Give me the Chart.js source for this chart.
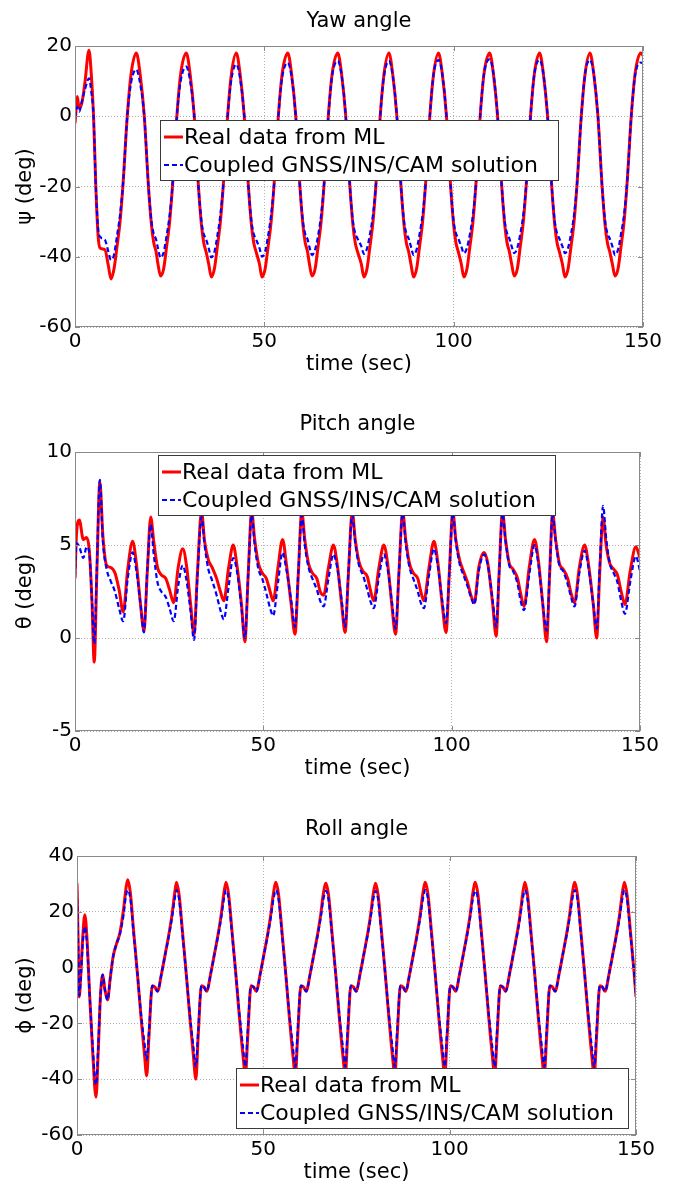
<!DOCTYPE html>
<html>
<head>
<meta charset="utf-8">
<script src="https://cdn.jsdelivr.net/npm/chart.js@4.4.1/dist/chart.umd.min.js"></script>
<style>
  html, body { margin: 0; padding: 0; background: #fff; overflow: hidden; }
  canvas { position: absolute; left: 0; }
</style>
</head>
<body>
<canvas id="yawChart" width="678" height="380" style="top:0px"></canvas>
<canvas id="pitchChart" width="678" height="394" style="top:390px"></canvas>
<canvas id="rollChart" width="678" height="398" style="top:790px"></canvas>
<script>
// values, time in sec, angles in deg
const yawTime = [
  0, 0.3, 0.6, 1.1, 1.8, 2.6, 3.7, 4.3, 4.9, 5.5, 6.1, 6.6, 7.9, 8.8, 9.5,
  10.3, 11.1, 11.9, 12.7, 13.8, 14.8,
  16.2, 17.2, 18.3, 19.4, 20.2, 20.8, 21.4, 21.9, 22.6, 23.4, 24.2, 25.0, 25.8, 26.9, 27.9,
  29.4, 30.4, 31.5, 32.6, 33.4, 34.0, 34.6, 35.3, 36.0, 36.8, 37.6, 38.4, 39.2, 40.3, 41.3,
  42.6, 43.6, 44.7, 45.8, 46.6, 47.2, 47.8, 48.7, 49.4, 50.2, 51.0, 51.8, 52.6, 53.7, 54.7,
  56.2, 57.2, 58.3, 59.4, 60.2, 60.8, 61.4, 61.9, 62.6, 63.4, 64.2, 65.0, 65.8, 66.9, 67.9,
  69.4, 70.4, 71.5, 72.6, 73.4, 74.0, 74.6, 75.6, 76.3, 77.1, 77.9, 78.7, 79.5, 80.6, 81.6,
  82.9, 83.9, 85.0, 86.1, 86.9, 87.5, 88.1, 88.7, 89.4, 90.2, 91.0, 91.8, 92.6, 93.7, 94.7,
  96.0, 97.0, 98.1, 99.2, 100.0, 100.6, 101.2, 102.0, 102.7, 103.5, 104.3, 105.1, 105.9, 107.0, 108.0,
  109.5, 110.5, 111.6, 112.7, 113.5, 114.1, 114.7, 115.3, 116.0, 116.8, 117.6, 118.4, 119.2, 120.3, 121.3,
  122.7, 123.7, 124.8, 125.9, 126.7, 127.3, 127.9, 128.7, 129.4, 130.2, 131.0, 131.8, 132.6, 133.7, 134.7,
  136.0, 137.0, 138.1, 139.2, 140.0, 140.6, 141.2, 141.9, 142.6, 143.4, 144.2, 145.0, 145.8, 146.9, 147.9,
  149.4, 150,
];
const yawReal = [
  -2, 2, 5.6, 2.3, 3.7, 9.4, 18.8, 12, 0, -20, -34, -37.5, -38, -42.5, -46.3,
  -43.5, -37, -30, -19, 0, 12,
  18, 12, 0, -20, -31, -36, -38.5, -42, -45.5, -43.5, -37, -30, -19, 0, 12,
  18, 12, 0, -20, -31, -36, -38.5, -42, -45.8, -43.5, -37, -30, -19, 0, 12,
  18, 12, 0, -20, -31, -36, -38.5, -42, -45.8, -43.5, -37, -30, -19, 0, 12,
  18, 12, 0, -20, -31, -36, -38.5, -42, -45.5, -43.5, -37, -30, -19, 0, 12,
  18, 12, 0, -20, -31, -36, -38.5, -42, -45.8, -43.5, -37, -30, -19, 0, 12,
  18, 12, 0, -20, -31, -36, -38.5, -42, -45.8, -43.5, -37, -30, -19, 0, 12,
  18, 12, 0, -20, -31, -36, -38.5, -42, -45.8, -43.5, -37, -30, -19, 0, 12,
  18, 12, 0, -20, -31, -36, -38.5, -42, -45.5, -43.5, -37, -30, -19, 0, 12,
  18, 12, 0, -20, -31, -36, -38.5, -42, -45.8, -43.5, -37, -30, -19, 0, 12,
  18, 12, 0, -20, -31, -36, -38.5, -42, -45.5, -43.5, -37, -30, -19, 0, 12,
  18, 17.3,
];
const yawCoupled = [
  -0.3, 1.5, 2.7, 1.3, 4.2, 7.5, 10.8, 7, 0, -20, -32, -34.3, -35.2, -38.5, -40.9,
  -39.4, -34, -28, -19, 0, 9.5,
  13.3, 9.3, 0, -20, -30, -33.5, -35, -37.5, -40.3, -38.8, -34, -28, -19, 0, 10,
  14.1, 10.1, 0, -20, -30, -33.5, -35, -37.5, -40.2, -38.7, -34, -28, -19, 0, 10.5,
  14.8, 10.8, 0, -20, -30, -33.5, -35, -37.5, -40, -38.5, -34, -28, -19, 0, 11,
  15.2, 11.2, 0, -20, -30, -33.5, -35, -37.2, -39.5, -38, -34, -28, -19, 0, 11.5,
  15.7, 11.7, 0, -20, -30, -33.3, -34.8, -37, -39.2, -37.7, -33.5, -28, -19, 0, 11.5,
  15.7, 11.7, 0, -20, -30, -33.3, -34.8, -37, -39.5, -38, -33.5, -28, -19, 0, 12,
  16, 12, 0, -20, -30, -33.3, -34.8, -37, -39, -37.5, -33.5, -28, -19, 0, 12,
  16.2, 12.2, 0, -20, -30, -33.3, -34.8, -37, -39, -37.5, -33.5, -28, -19, 0, 12,
  16, 12, 0, -20, -30, -33.3, -34.8, -37, -39, -37.5, -33.5, -28, -19, 0, 12,
  16, 12, 0, -20, -30, -33.3, -34.8, -37, -39.5, -38, -33.5, -28, -19, 0, 11.5,
  15.3, 15,
];

const pitchTime = [
  0, 0.4, 1.15, 2.2, 3.1, 3.8, 4.5, 5.1, 5.8,
  6.6, 7.4, 8.4, 9.4, 10.6, 11.7, 12.8, 14.0, 15.3, 16.3, 17.4, 18.3, 19.2,
  20.1, 20.9, 21.9, 22.9, 24.1, 25.1, 26.2, 27.4, 28.6, 29.6, 30.7, 31.6, 32.5,
  33.6, 34.4, 35.4, 36.4, 37.6, 38.6, 39.5, 40.8, 42.0, 43.0, 44.2, 45.1, 46.0,
  46.9, 47.7, 48.7, 49.7, 50.8, 51.8, 52.6, 53.9, 55.1, 56.1, 57.4, 58.4, 59.3,
  60.2, 61.0, 62.0, 63.0, 64.2, 65.1, 66.0, 67.3, 68.6, 69.6, 70.8, 71.7, 72.6,
  73.6, 74.4, 75.4, 76.4, 77.6, 78.4, 79.3, 80.7, 82.0, 83.0, 84.1, 85.1, 86.0,
  87.0, 87.8, 88.8, 89.8, 91.0, 91.8, 92.6, 94.0, 95.3, 96.3, 97.5, 98.5, 99.4,
  100.3, 101.1, 102.1, 103.1, 104.2, 105.1, 106.0, 107.2, 108.6, 109.6, 110.9, 111.8, 112.6,
  113.5, 114.3, 115.3, 116.3, 117.5, 118.3, 119.2, 120.6, 122.0, 123.0, 124.2, 125.2, 126.0,
  126.8, 127.6, 128.6, 129.6, 130.8, 131.7, 132.6, 133.9, 135.3, 136.3, 137.6, 138.5, 139.3,
  140.2, 141.0, 142.0, 143.0, 144.0, 145.0, 146.0, 147.4, 148.9, 150,
];
const pitchReal = [
  3.2, 5.6, 6.35, 5.3, 5.4, 4.7, 2.0, -1.3, 3.5,
  8.4, 5.5, 3.9, 3.8, 3.5, 2.6, 1.4, 3.7, 5.2, 4.0, 1.8, 0.4, 3.6,
  6.5, 5.2, 3.8, 3.4, 3.2, 2.6, 1.9, 3.8, 4.8, 3.9, 1.8, 0.2, 3.5,
  6.8, 5.2, 4.2, 3.8, 3.2, 2.5, 2.0, 3.8, 5.0, 3.9, 1.8, -0.2, 3.5,
  6.8, 5.3, 4.0, 3.5, 3.2, 2.5, 2.0, 3.8, 5.3, 4.0, 1.8, 0.2, 3.5,
  6.8, 5.3, 4.0, 3.5, 3.2, 2.5, 2.3, 3.8, 5.0, 4.0, 1.8, 0.3, 3.5,
  6.8, 5.3, 4.1, 3.6, 3.3, 2.6, 2.0, 3.8, 5.0, 4.0, 1.8, 0.2, 3.5,
  6.8, 5.3, 4.0, 3.5, 3.2, 2.5, 2.0, 3.8, 5.2, 4.1, 1.8, 0.3, 3.6,
  6.8, 5.3, 4.2, 3.6, 3.0, 2.3, 1.9, 3.8, 4.6, 4.0, 1.8, 0.1, 3.5,
  6.8, 5.3, 4.0, 3.7, 3.2, 2.4, 1.7, 3.8, 5.3, 4.2, 1.8, -0.2, 3.4,
  6.7, 5.3, 4.0, 3.7, 3.2, 2.4, 1.9, 3.8, 5.0, 4.0, 1.8, 0.0, 3.5,
  6.5, 5.0, 4.0, 3.7, 3.4, 2.5, 1.8, 3.6, 4.9, 4.3,
];
const pitchCoupled = [
  3.3, 5.1, 4.9, 4.3, 4.9, 4.6, 2.0, -0.3, 3.8,
  8.5, 5.2, 3.7, 3.1, 2.5, 1.6, 0.9, 3.2, 4.6, 3.6, 1.8, 0.3, 3.7,
  6.1, 4.5, 3.0, 2.5, 2.2, 1.6, 0.9, 2.8, 3.9, 3.1, 1.4, -0.1, 3.3,
  6.5, 5.0, 3.7, 3.1, 2.3, 1.5, 1.0, 2.8, 4.3, 3.6, 1.6, 0.0, 3.5,
  6.6, 5.0, 3.7, 3.2, 2.4, 1.6, 1.2, 3.0, 4.6, 3.7, 2.0, 0.6, 3.6,
  6.6, 5.0, 3.8, 3.2, 2.6, 2.0, 1.7, 3.2, 4.5, 3.8, 2.0, 0.6, 3.6,
  6.6, 5.1, 3.9, 3.4, 2.6, 2.0, 1.6, 3.3, 4.5, 3.7, 2.0, 0.5, 3.5,
  6.7, 5.1, 3.8, 3.2, 2.5, 1.9, 1.6, 3.4, 4.8, 3.9, 2.0, 0.8, 3.6,
  6.7, 5.2, 4.0, 3.4, 2.8, 2.2, 1.8, 3.6, 4.5, 3.9, 2.0, 0.6, 3.5,
  6.7, 5.2, 3.9, 3.6, 2.9, 2.0, 1.5, 3.4, 5.0, 4.0, 1.8, 0.4, 3.4,
  6.7, 5.2, 3.9, 3.6, 2.9, 2.2, 1.7, 3.5, 4.7, 3.8, 1.8, 0.5, 3.8,
  7.1, 5.4, 4.0, 3.5, 3.0, 2.0, 1.3, 3.0, 4.4, 3.6,
];

const rollTime = [
  0, 0.3, 0.6, 1.0, 1.5, 2.1, 2.7, 3.4, 4.2, 5.1, 5.7, 6.3, 6.9, 7.5, 8.2, 8.9, 9.7, 10.6, 11.5, 12.5, 13.1,
  13.6, 14.3, 15.2, 16.2, 17.2, 18.1, 18.7, 19.3, 20.2, 20.9, 21.6, 22.7, 23.7, 24.6, 25.5, 26.2,
  26.7, 27.4, 28.3, 29.3, 30.3, 31.2, 31.9, 32.5, 33.4, 34.1, 34.8, 35.9, 36.9, 37.8, 38.7, 39.4,
  40.0, 40.7, 41.6, 42.6, 43.6, 44.5, 45.2, 45.8, 46.7, 47.4, 48.1, 49.2, 50.2, 51.1, 52.0, 52.7,
  53.4, 54.1, 55.0, 56.0, 57.0, 57.9, 58.6, 59.2, 60.1, 60.8, 61.5, 62.6, 63.6, 64.5, 65.4, 66.1,
  66.8, 67.5, 68.4, 69.4, 70.4, 71.3, 72.0, 72.6, 73.5, 74.2, 74.9, 76.0, 77.0, 77.9, 78.8, 79.5,
  80.1, 80.8, 81.7, 82.7, 83.7, 84.6, 85.3, 85.9, 86.8, 87.5, 88.2, 89.3, 90.3, 91.2, 92.1, 92.8,
  93.5, 94.2, 95.1, 96.1, 97.1, 98.0, 98.7, 99.3, 100.2, 100.9, 101.6, 102.7, 103.7, 104.6, 105.5, 106.2,
  106.9, 107.6, 108.5, 109.5, 110.5, 111.4, 112.1, 112.7, 113.6, 114.3, 115.0, 116.1, 117.1, 118.0, 118.9, 119.6,
  120.2, 120.9, 121.8, 122.8, 123.8, 124.7, 125.4, 126.0, 126.9, 127.6, 128.3, 129.4, 130.4, 131.3, 132.2, 132.9,
  133.6, 134.3, 135.2, 136.2, 137.2, 138.1, 138.8, 139.4, 140.3, 141.0, 141.7, 142.8, 143.8, 144.7, 145.6, 146.3,
  146.9, 147.6, 148.5, 149.5, 150,
];
const rollReal = [
  30.2, 10, -10.5, -3, 10, 18.9, 10, -10, -30, -46.5, -30, -10, -2.6, -8, -11.6, -4, 4, 8.5, 12.4, 21, 28,
  31.5, 27, 13, -2, -18, -31, -38.8, -25, -6.5, -7, -8.5, -2, 5, 11.5, 19, 26.5,
  30.6, 26, 13, -2, -18, -31, -40, -25, -6.5, -7, -8.5, -2, 5, 11.5, 19, 26.5,
  30.6, 26, 13, -2, -18, -31, -38.5, -25, -6.5, -7, -8.5, -2, 5, 11.5, 19, 26.5,
  30.6, 26, 13, -2, -18, -31, -38.5, -25, -6.5, -7, -8.5, -2, 5, 11.5, 19, 26.5,
  30.2, 26, 13, -2, -18, -31, -38.5, -25, -6.5, -7, -8.5, -2, 5, 11.5, 19, 26.5,
  30.2, 26, 13, -2, -18, -31, -38.5, -25, -6.5, -7, -8.5, -2, 5, 11.5, 19, 26.5,
  30.6, 26, 13, -2, -18, -31, -38.5, -25, -6.5, -7, -8.5, -2, 5, 11.5, 19, 26.5,
  30.6, 26, 13, -2, -18, -31, -38.5, -25, -6.5, -7, -8.5, -2, 5, 11.5, 19, 26.5,
  30.6, 26, 13, -2, -18, -31, -38.5, -25, -6.5, -7, -8.5, -2, 5, 11.5, 19, 26.5,
  30.6, 26, 13, -2, -18, -31, -38.5, -25, -6.5, -7, -8.5, -2, 5, 11.5, 19, 26.5,
  30.6, 26, 13, -2, -10.5,
];
const rollCoupled = [
  27.8, 8, -10, -4, 8, 14.7, 8, -10, -28, -42, -28, -10, -2.6, -8, -11.6, -4, 4, 8.5, 12, 19, 25.5,
  27.8, 25, 12, -2, -17, -27, -33, -23, -6.5, -7, -8.5, -2, 5, 11, 18, 24.5,
  27.8, 24.5, 12, -2, -17, -28, -35.5, -23, -6.5, -7, -8.5, -2, 5, 11, 18, 24.5,
  27.8, 24.5, 12, -2, -17, -28, -35.5, -23, -6.5, -7, -8.5, -2, 5, 11, 18, 24.5,
  27.8, 24.5, 12, -2, -17, -28, -35.5, -23, -6.5, -7, -8.5, -2, 5, 11, 18, 24.5,
  27.5, 24.5, 12, -2, -17, -28, -35.5, -23, -6.5, -7, -8.5, -2, 5, 11, 18, 24.5,
  27.5, 24.5, 12, -2, -17, -28, -35.5, -23, -6.5, -7, -8.5, -2, 5, 11, 18, 24.5,
  27.8, 24.5, 12, -2, -17, -28, -35.5, -23, -6.5, -7, -8.5, -2, 5, 11, 18, 24.5,
  27.5, 24.5, 12, -2, -17, -28, -35.5, -23, -6.5, -7, -8.5, -2, 5, 11, 18, 24.5,
  27.8, 24.5, 12, -2, -17, -28, -35.5, -23, -6.5, -7, -8.5, -2, 5, 11, 18, 24.5,
  27.8, 24.5, 12, -2, -17, -28, -35.5, -23, -6.5, -7, -8.5, -2, 5, 11, 18, 24.5,
  27.8, 24.5, 12, -2, -10,
];

const seriesLabels = ["Real data from ML", "Coupled GNSS/INS/CAM solution"];
const xTickStep = 50;

const FONT = "'DejaVu Sans', sans-serif";

const toPoints = function (times, values) {
  return times.map((t, i) => ({ x: t, y: values[i] }));
};

// matlab style box round the axes, with small inward ticks
const framePlugin = {
  id: "frame",
  afterDatasetsDraw(chart) {
    const ctx = chart.ctx;
    const a = chart.chartArea;
    const sx = chart.scales.x;
    const sy = chart.scales.y;
    ctx.save();
    ctx.strokeStyle = "#8a8a8a";
    ctx.lineWidth = 1;
    ctx.strokeRect(a.left + 0.5, a.top + 0.5, a.right - a.left - 1, a.bottom - a.top - 1);
    ctx.beginPath();
    sx.ticks.forEach((tk) => {
      const px = Math.round(sx.getPixelForValue(tk.value)) + 0.5;
      ctx.moveTo(px, a.bottom);
      ctx.lineTo(px, a.bottom - 5);
      ctx.moveTo(px, a.top);
      ctx.lineTo(px, a.top + 5);
    });
    sy.ticks.forEach((tk) => {
      const py = Math.round(sy.getPixelForValue(tk.value)) + 0.5;
      ctx.moveTo(a.left, py);
      ctx.lineTo(a.left + 5, py);
      ctx.moveTo(a.right, py);
      ctx.lineTo(a.right - 5, py);
    });
    ctx.stroke();
    ctx.restore();
  },
};

const titlePlugin = {
  id: "plotTitle",
  afterDraw(chart, args, opts) {
    const ctx = chart.ctx;
    const a = chart.chartArea;
    ctx.save();
    ctx.font = "21px " + FONT;
    ctx.fillStyle = "#000";
    ctx.textAlign = "center";
    ctx.textBaseline = "middle";
    ctx.fillText(opts.text, (a.left + a.right) / 2, opts.y);
    ctx.restore();
  },
};

// boxed legend sitting inside the plot, like matlab's
const legendPlugin = {
  id: "boxLegend",
  afterDraw(chart, args, opts) {
    const ctx = chart.ctx;
    ctx.save();
    ctx.fillStyle = "#fff";
    ctx.fillRect(opts.x, opts.y, opts.w, opts.h);
    ctx.strokeStyle = "#3a3a3a";
    ctx.lineWidth = 1;
    ctx.strokeRect(opts.x + 0.5, opts.y + 0.5, opts.w, opts.h);
    chart.data.datasets.forEach((ds, i) => {
      const cy = opts.y + 17 + i * 28;
      ctx.strokeStyle = ds.borderColor;
      ctx.lineWidth = ds.borderWidth;
      ctx.setLineDash(ds.borderDash || []);
      ctx.beginPath();
      ctx.moveTo(opts.x + 4, cy);
      ctx.lineTo(opts.x + 23, cy);
      ctx.stroke();
      ctx.setLineDash([]);
      ctx.fillStyle = "#000";
      ctx.font = "22px " + FONT;
      ctx.textAlign = "left";
      ctx.textBaseline = "middle";
      ctx.fillText(ds.label, opts.x + 24, cy + 1);
    });
    ctx.restore();
  },
};

const makeChart = function (id, cfg) {
  const tickFont = { family: FONT, size: 20 };
  const titleFont = { family: FONT, size: 21 };
  const datasets = [
    {
      label: seriesLabels[0],
      data: toPoints(cfg.time, cfg.real),
      borderColor: "#ff0000",
      borderWidth: 3,
      order: 2,
    },
    {
      label: seriesLabels[1],
      data: toPoints(cfg.time, cfg.coupled),
      borderColor: "#0000ff",
      borderWidth: 2.2,
      borderDash: [5, 3],
      order: 1,
    },
  ];

  return new Chart(document.getElementById(id), {
    type: "line",
    data: { datasets: datasets },
    options: {
      responsive: false,
      animation: false,
      devicePixelRatio: 1,
      layout: { padding: { top: cfg.padTop, right: cfg.padRight, left: 0, bottom: 0 } },
      elements: {
        point: { radius: 0 },
        line: { cubicInterpolationMode: "monotone", fill: false },
      },
      plugins: {
        legend: { display: false },
        tooltip: { enabled: false },
        plotTitle: { text: cfg.title, y: cfg.titleY },
        boxLegend: cfg.legend,
      },
      scales: {
        x: {
          type: "linear",
          min: 0,
          max: 150,
          ticks: { stepSize: xTickStep, padding: 3, color: "#000", font: tickFont, maxRotation: 0 },
          grid: { color: "#b4b4b4", lineWidth: 1, drawTicks: false },
          border: { display: false, dash: [1, 2] },
          title: {
            display: true,
            text: "time (sec)",
            color: "#000",
            font: titleFont,
            padding: { top: 0, bottom: 3 },
          },
          afterFit: (s) => {
            s.height = 53;
          },
        },
        y: {
          type: "linear",
          min: cfg.yMin,
          max: cfg.yMax,
          ticks: { stepSize: cfg.yStep, padding: 3, color: "#000", font: tickFont },
          grid: { color: "#b4b4b4", lineWidth: 1, drawTicks: false },
          border: { display: false, dash: [1, 2] },
          title: {
            display: true,
            text: cfg.yLabel,
            color: "#000",
            font: titleFont,
            padding: { top: 13, bottom: 0 },
          },
          afterFit: (s) => {
            s.width = cfg.yWidth;
          },
        },
      },
    },
    plugins: [framePlugin, titlePlugin, legendPlugin],
  });
};

makeChart("yawChart", {
  time: yawTime,
  real: yawReal,
  coupled: yawCoupled,
  title: "Yaw angle",
  titleY: 22,
  yLabel: "\u03c8 (deg)",
  yMin: -60,
  yMax: 20,
  yStep: 20,
  yWidth: 75,
  padTop: 46,
  padRight: 35,
  legend: { x: 160, y: 120, w: 398, h: 60 },
});

makeChart("pitchChart", {
  time: pitchTime,
  real: pitchReal,
  coupled: pitchCoupled,
  title: "Pitch angle",
  titleY: 35,
  yLabel: "\u03b8 (deg)",
  yMin: -5,
  yMax: 10,
  yStep: 5,
  yWidth: 75,
  padTop: 62,
  padRight: 38,
  legend: { x: 158, y: 65, w: 397, h: 60 },
});

makeChart("rollChart", {
  time: rollTime,
  real: rollReal,
  coupled: rollCoupled,
  title: "Roll angle",
  titleY: 40,
  yLabel: "\u03d5 (deg)",
  yMin: -60,
  yMax: 40,
  yStep: 20,
  yWidth: 77,
  padTop: 66,
  padRight: 42,
  legend: { x: 236, y: 278, w: 392, h: 60 },
});
</script>
</body>
</html>
